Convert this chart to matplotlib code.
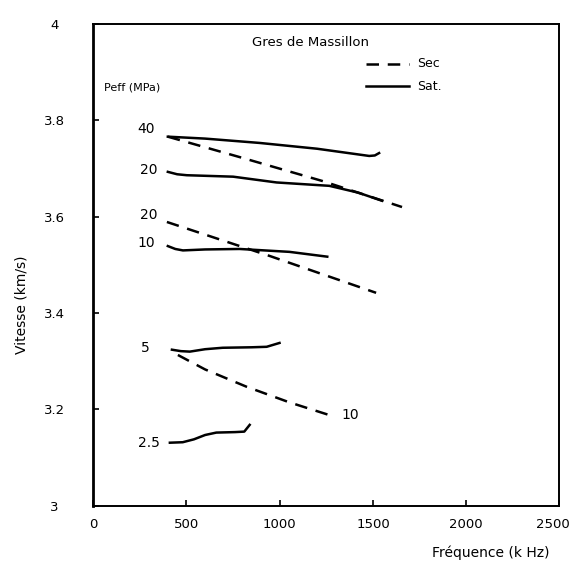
import matplotlib.pyplot as plt
from matplotlib.transforms import ScaledTranslation

plt.rcParams['font.family'] = ['DejaVu Sans']

# Sat. (solid) curves
sat40_f = [400, 600, 892, 1200, 1480, 1510, 1533]
sat40_v = [3.766, 3.762, 3.753, 3.741, 3.726, 3.727, 3.732]
sat20_f = [400, 450, 502, 750, 983, 1266, 1420, 1549]
sat20_v = [3.693, 3.688, 3.686, 3.683, 3.671, 3.664, 3.650, 3.633]
sat10_f = [400, 440, 481, 600, 785, 1052, 1255]
sat10_v = [3.539, 3.533, 3.530, 3.532, 3.533, 3.527, 3.517]
sat5_f = [422, 470, 518, 600, 694, 850, 930, 999]
sat5_v = [3.324, 3.321, 3.320, 3.325, 3.328, 3.329, 3.330, 3.338]
sat25_f = [411, 480, 540, 600, 660, 760, 810, 839]
sat25_v = [3.131, 3.132, 3.138, 3.147, 3.152, 3.153, 3.154, 3.168]

# Sec (dashed) curves
sec40_f = [400, 800, 1229, 1656]
sec40_v = [3.766, 3.722, 3.674, 3.620]
sec20_f = [395, 950, 1517]
sec20_v = [3.589, 3.518, 3.442]
sec10_f = [454, 600, 823, 1050, 1277]
sec10_v = [3.313, 3.283, 3.247, 3.215, 3.187]

# curve labels: text, freq, velocity
lab_txt = ['40', '20', '20', '10', '5', '2.5', '10']
lab_f = [285, 300, 300, 285, 280, 300, 1380]
lab_v = [3.781, 3.697, 3.604, 3.546, 3.328, 3.131, 3.189]

fig = plt.figure(figsize=(5.72, 5.69), dpi=100)
ax = fig.add_axes([0.163, 0.111, 0.815, 0.847])

kw = dict(color='black', lw=1.8)
for f, v in [(sat40_f, sat40_v), (sat20_f, sat20_v), (sat10_f, sat10_v),
             (sat5_f, sat5_v), (sat25_f, sat25_v)]:
    ax.plot(f, v, '-', **kw)
for f, v in [(sec40_f, sec40_v), (sec20_f, sec20_v), (sec10_f, sec10_v)]:
    ax.plot(f, v, '--', dashes=(5, 3.5), **kw)

for t, f, v in zip(lab_txt, lab_f, lab_v):
    ax.text(f, v, t, ha='center', va='center', fontsize=10)

fig.text(310 / 572, 0.926, 'Gres de Massillon', ha='center', va='center',
         fontsize=9.5)
fig.text(0.182, 0.846, 'Peff (MPa)', ha='left', va='center', fontsize=8)

# legend drawn by hand like the original
ax.plot([1463, 1693], [3.917, 3.917], '--', dashes=(5, 3.5), **kw)
ax.plot([1463, 1693], [3.871, 3.871], '-', **kw)
ax.text(1736, 3.917, 'Sec', va='center', fontsize=9)
ax.text(1736, 3.871, 'Sat.', va='center', fontsize=9)

ax.set_xlim(0, 2500)
ax.set_ylim(3, 4)
ax.set_xticks([0, 500, 1000, 1500, 2000, 2500])
ax.set_yticks([3, 3.2, 3.4, 3.6, 3.8, 4])
ax.set_yticklabels(['3', '3.2', '3.4', '3.6', '3.8', '4'])
ax.tick_params(direction='in', length=4, labelsize=9.5, width=1.2)
ax.tick_params(axis='y', pad=28)
ax.tick_params(axis='x', pad=9)
for lbl in ax.get_yticklabels():
    lbl.set_horizontalalignment('center')
last = ax.get_xticklabels()[-1]
last.set_horizontalalignment('right')
last.set_transform(last.get_transform()
                   + ScaledTranslation(0.1, 0, fig.dpi_scale_trans))
for s in ax.spines.values():
    s.set_linewidth(1.4)
ax.spines['left'].set_linewidth(2)

fig.text(0.038, 0.465, 'Vitesse (km/s)', rotation=90, ha='center',
         va='center', fontsize=10)
fig.text(0.96, 0.028, 'Fréquence (k Hz)', ha='right', va='center',
         fontsize=10)

fig.savefig('out.png', dpi=100)
